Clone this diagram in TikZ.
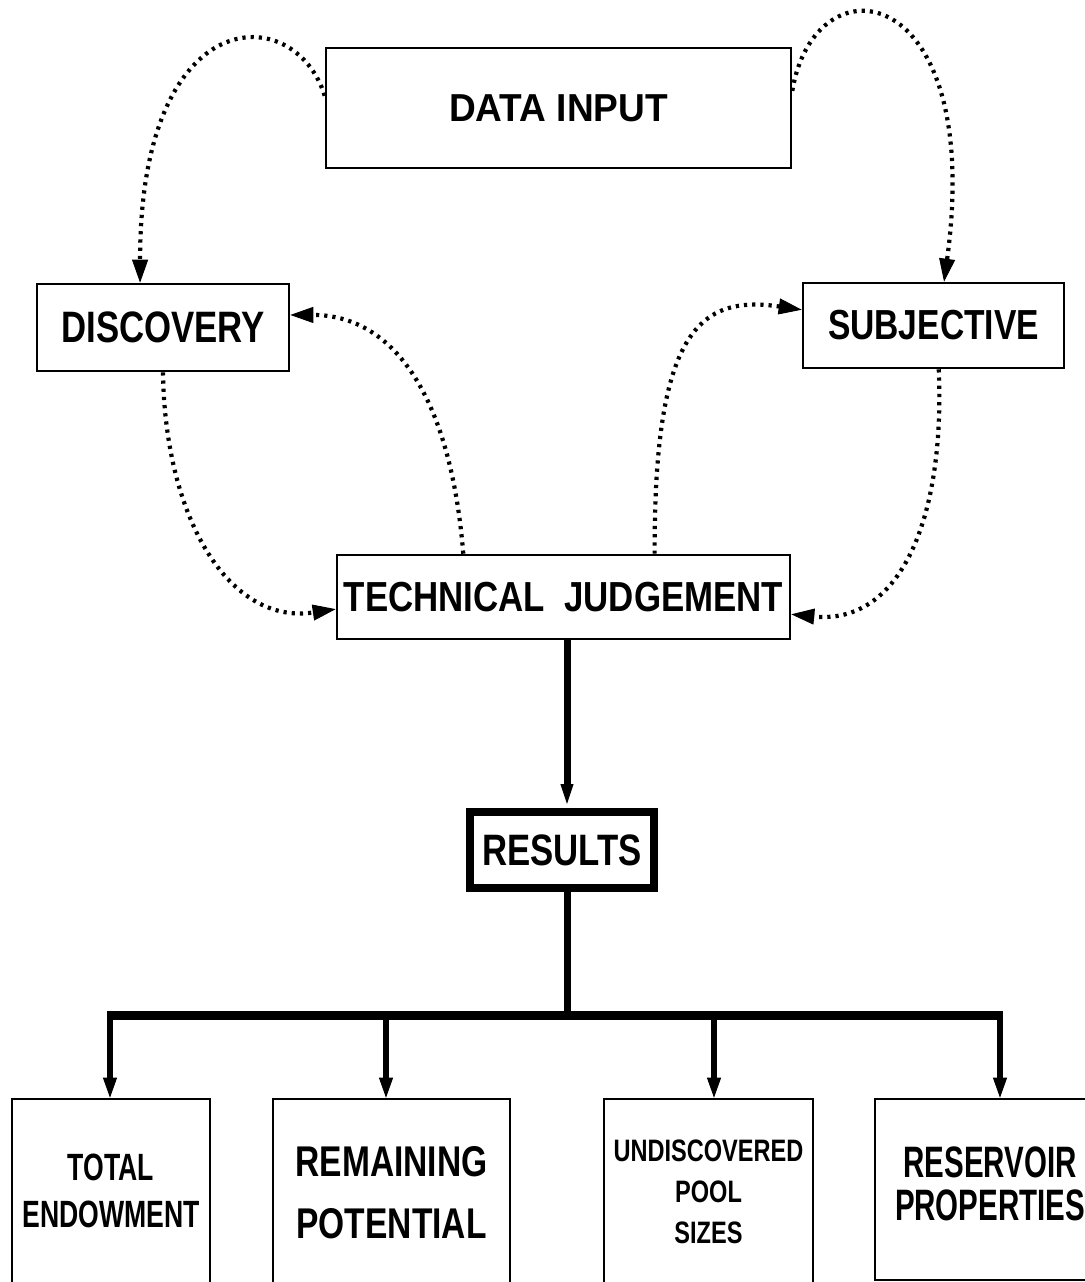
\documentclass[tikz,border=0pt]{standalone}
\usepackage{graphicx}
\usepackage{fontspec}
\setmainfont{Liberation Sans}
\usetikzlibrary{arrows.meta,calc}

% narrowed capitals, single line and stacked
\newcommand\squeeze[2]{\scalebox{#1}[1]{#2}}
\newcommand\squeezelines[2]{\scalebox{#1}[1]{\begin{tabular}{@{}c@{}}#2\end{tabular}}}

\begin{document}
\begin{tikzpicture}[x=1pt,y=-1pt,
  box/.style={draw, rectangle, line width=2.6pt, inner sep=0pt},
  bigbox/.style={draw, rectangle, line width=8pt, inner sep=0pt},
  flow/.style={line width=5.5pt, -{Triangle[length=20pt,width=14pt,line width=1pt]}},
  spine/.style={line width=7pt},
  bus/.style={line width=9pt},
  loop/.style={line width=4.2pt, dash pattern=on 3.2pt off 5pt,
    -{Triangle[length=23pt,width=16pt,line width=1pt]}}
]
\useasboundingbox (0,0) rectangle (1084,1282);
\fill[white] (0,0) rectangle (1084,1282);

% ---- upper boxes
\node[box, minimum width=465pt, minimum height=120pt,
  font=\fontsize{39}{47}\selectfont\bfseries] (data) at (558.5,108) {\squeeze{0.95}{DATA INPUT}};
\node[box, minimum width=252pt, minimum height=87pt,
  font=\fontsize{44}{52}\selectfont\bfseries] (disc) at (163,327.5) {\squeeze{0.79}{DISCOVERY}};
\node[box, minimum width=261pt, minimum height=85pt,
  font=\fontsize{42}{50}\selectfont\bfseries] (subj) at (933.5,325.5) {\squeeze{0.80}{SUBJECTIVE}};
\node[box, minimum width=453pt, minimum height=84pt,
  font=\fontsize{42}{50}\selectfont\bfseries] (tech) at (563.5,597) {\squeeze{0.83}{TECHNICAL\hspace{0.55em}JUDGEMENT}};
\node[bigbox, minimum width=184pt, minimum height=76pt,
  font=\fontsize{44}{52}\selectfont\bfseries] (res) at (562,850) {\squeeze{0.79}{RESULTS}};

% ---- lower boxes (running off the bottom edge)
\node[box, minimum width=198pt, minimum height=192pt,
  font=\fontsize{38}{47}\selectfont\bfseries] (total) at (111,1195) {\squeezelines{0.70}{TOTAL\\ENDOWMENT}};
\node[box, minimum width=237pt, minimum height=192pt,
  font=\fontsize{43}{62}\selectfont\bfseries] (remain) at (391.5,1195) {\squeezelines{0.78}{REMAINING\\POTENTIAL}};
\node[box, minimum width=209pt, minimum height=190pt,
  font=\fontsize{31}{41}\selectfont\bfseries] (undisc) at (708.5,1194) {\squeezelines{0.76}{UNDISCOVERED\\POOL\\SIZES}};
\node[box, minimum width=230pt, minimum height=181pt,
  font=\fontsize{44}{40}\selectfont\bfseries] (reserv) at (990,1189.5) {\squeezelines{0.67}{RESERVOIR\\PROPERTIES}};

% ---- dotted feedback loops
\draw[loop] ($(data.north west)!0.4!(data.south west)$)
  .. controls (295,0) and (140,0) .. ($(disc.north west)!0.41!(disc.north east)$);
\draw[loop] ($(data.north east)!0.36!(data.south east)$)
  .. controls (815,-45) and (985,-20) .. ($(subj.north west)!0.54!(subj.north east)$);
\draw[loop] ($(tech.north west)!0.7!(tech.north east)$)
  .. controls (654,330) and (700,295) .. ($(subj.north west)!0.32!(subj.south west)$);
\draw[loop] ($(tech.north west)!0.28!(tech.north east)$)
  .. controls (450,390) and (390,315) .. ($(disc.north east)!0.36!(disc.south east)$);
\draw[loop] (disc.south)
  .. controls (165,520) and (230,625) .. ($(tech.north west)!0.64!(tech.south west)$);
\draw[loop] ($(subj.south west)!0.52!(subj.south east)$)
  .. controls (945,520) and (900,625) .. ($(tech.north east)!0.7!(tech.south east)$);

% ---- result distribution
\coordinate (b1) at (110,1015);
\coordinate (b2) at (386,1015);
\coordinate (bm) at (567,1015);
\coordinate (b3) at (714,1015);
\coordinate (b4) at (1000,1015);

\draw[spine, -{Triangle[length=20pt,width=13pt,line width=1pt]}, shorten >=4pt]
  (tech.south -| bm) -- (bm |- res.north);
\draw[spine] ($(bm |- res.south)+(0,-4)$) -- (bm);
\draw[bus] (b1) -- (b4);
\draw[flow] ($(b1)+(0,-4)$) -- (b1 |- total.north);
\draw[flow] (b2) -- (b2 |- remain.north);
\draw[flow] (b3) -- (b3 |- undisc.north);
\draw[flow] ($(b4)+(0,-4)$) -- (b4 |- reserv.north);
\end{tikzpicture}
\end{document}
